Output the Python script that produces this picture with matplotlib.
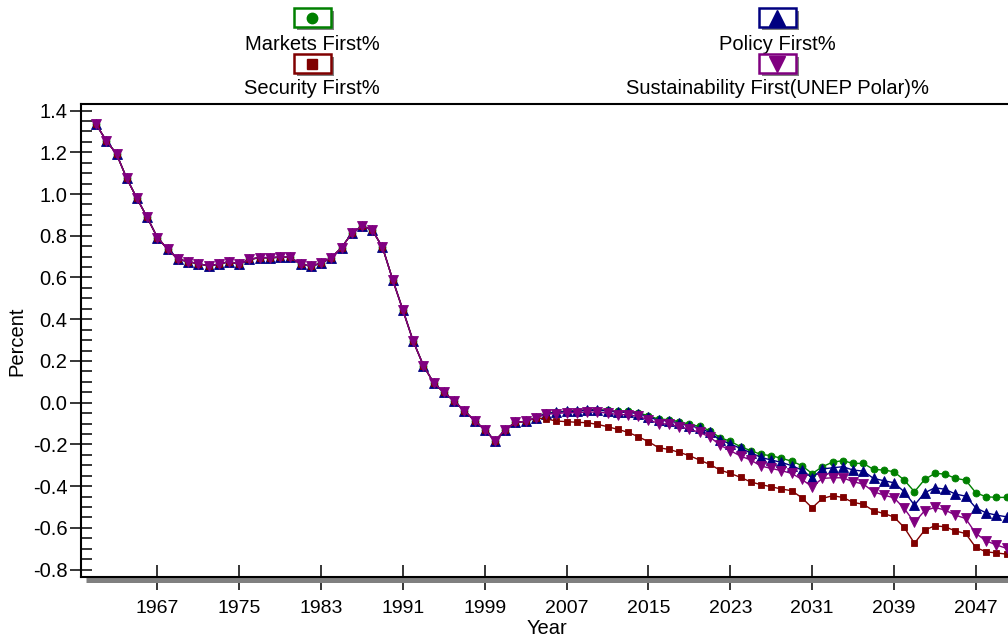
import matplotlib
matplotlib.use("Agg")
import matplotlib.pyplot as plt
from matplotlib.ticker import MultipleLocator, FixedLocator
from matplotlib.patches import Rectangle
from matplotlib.lines import Line2D

plt.rcParams['font.family'] = ['Liberation Sans', 'DejaVu Sans']

years = list(range(1961, 2051))

# shared history 1961-2004
hist = [1.334, 1.256, 1.192, 1.075, 0.979, 0.888, 0.791, 0.736, 0.688, 0.676,
        0.666, 0.656, 0.664, 0.676, 0.663, 0.687, 0.695, 0.695, 0.697, 0.697,
        0.663, 0.655, 0.668, 0.695, 0.743, 0.812, 0.847, 0.827, 0.745, 0.589,
        0.443, 0.295, 0.178, 0.095, 0.049, 0.008, -0.039, -0.086, -0.130, -0.183,
        -0.130, -0.094, -0.090, -0.072]

# scenario values 2005-2050
markets_future = [-0.050, -0.045, -0.040, -0.038, -0.034, -0.033, -0.036, -0.042, -0.042, -0.048,
                  -0.063, -0.079, -0.081, -0.091, -0.103, -0.114, -0.134, -0.168, -0.185,
                  -0.211, -0.230, -0.248, -0.254, -0.267, -0.280, -0.302, -0.340, -0.307,
                  -0.285, -0.278, -0.291, -0.291, -0.320, -0.323, -0.331, -0.371, -0.427,
                  -0.368, -0.339, -0.342, -0.363, -0.371, -0.432, -0.451, -0.454, -0.454]
policy_future = [-0.052, -0.047, -0.042, -0.041, -0.037, -0.036, -0.040, -0.046, -0.046, -0.053,
                 -0.068, -0.085, -0.087, -0.098, -0.110, -0.122, -0.143, -0.178, -0.198,
                 -0.219, -0.240, -0.262, -0.275, -0.286, -0.302, -0.323, -0.360, -0.318,
                 -0.312, -0.307, -0.323, -0.328, -0.363, -0.374, -0.384, -0.427, -0.491,
                 -0.432, -0.408, -0.415, -0.438, -0.448, -0.504, -0.528, -0.539, -0.547]
security_future = [-0.078, -0.088, -0.091, -0.094, -0.096, -0.104, -0.115, -0.128, -0.142, -0.163,
                   -0.187, -0.216, -0.224, -0.238, -0.254, -0.275, -0.296, -0.323, -0.339,
                   -0.358, -0.380, -0.393, -0.403, -0.414, -0.422, -0.456, -0.504, -0.459,
                   -0.446, -0.454, -0.478, -0.487, -0.518, -0.531, -0.548, -0.598, -0.674,
                   -0.611, -0.590, -0.595, -0.615, -0.627, -0.694, -0.715, -0.720, -0.726]
sustain_future = [-0.055, -0.052, -0.048, -0.048, -0.045, -0.045, -0.050, -0.057, -0.058, -0.066,
                  -0.082, -0.100, -0.103, -0.115, -0.128, -0.142, -0.165, -0.203, -0.230,
                  -0.256, -0.275, -0.304, -0.315, -0.326, -0.339, -0.368, -0.403, -0.363,
                  -0.360, -0.360, -0.379, -0.390, -0.427, -0.443, -0.456, -0.507, -0.574,
                  -0.518, -0.502, -0.515, -0.539, -0.555, -0.627, -0.662, -0.682, -0.698]

labels = ["Markets First%", "Policy First%", "Security First%",
          "Sustainability First(UNEP Polar)%"]
colors = ["#008000", "#000080", "#800000", "#800080"]
markers = ["o", "^", "s", "v"]
msizes = [5.0, 7.8, 4.8, 7.8]
series = [hist + markets_future, hist + policy_future,
          hist + security_future, hist + sustain_future]

xticks = [1967, 1975, 1983, 1991, 1999, 2007, 2015, 2023, 2031, 2039, 2047]
yticks = [-0.8, -0.6, -0.4, -0.2, 0.0, 0.2, 0.4, 0.6, 0.8, 1.0, 1.2, 1.4]

W, H = 1008, 639
fig = plt.figure(figsize=(W / 100, H / 100), dpi=100)
ax = fig.add_axes([80.7 / W, 61.7 / H, (1016 - 80.7) / W, (577.3 - 104.3) / H])

for vals, c, m, ms in zip(series, colors, markers, msizes):
    ax.plot(years, vals, color=c, lw=1.0, marker=m, ms=ms,
            markerfacecolor=c, markeredgecolor=c, markeredgewidth=0.6, zorder=3)

ax.set_xlim(1959.5, 1959.5 + (1016 - 80.7) / 10.23)
ax.set_ylim(-0.837, 1.430)
ax.xaxis.set_major_locator(FixedLocator(xticks))
ax.yaxis.set_major_locator(FixedLocator(yticks))
ax.yaxis.set_minor_locator(MultipleLocator(0.05))
ax.set_xticklabels([str(t) for t in xticks])
ax.set_yticklabels(["%.1f" % t for t in yticks])

ax.tick_params(axis='x', which='major', direction='inout', length=18, width=1.1,
               labelsize=14, pad=7)
ax.tick_params(axis='y', which='major', direction='inout', length=16, width=1.1,
               labelsize=14.5, pad=1.5)
ax.tick_params(axis='y', which='minor', direction='in', length=8, width=1.1)
ax.tick_params(axis='x', which='minor', bottom=False)
for s in ['left', 'bottom', 'top', 'right']:
    ax.spines[s].set_linewidth(1.5)

# shadow under the x axis
ax.plot([5.3 / 935.3, 1.05], [-2.9 / 473.0, -2.9 / 473.0], transform=ax.transAxes,
        clip_on=False, color='#808080', lw=3.6, solid_capstyle='butt', zorder=2.4)

fig.text(17 / W, 1 - 340.8 / H, "Percent", rotation=90, ha='center', va='center', fontsize=14.5)
fig.text(547 / W, 1 - 628 / H, "Year", ha='center', va='center', fontsize=14.5)


def fx(x):
    return x / W


def fy(y):
    return 1 - y / H


# legend: boxes with markers, labels under them
cols = [312, 777, 312, 777]
box_y = [17.5, 17.5, 63.5, 63.5]
lab_y = [44, 44, 89, 89]
leg_ms = [7.5, 11, 7.5, 11]
bw, bh = 37, 19
for lab, c, m, ms, cx, by, ly in zip(labels, colors, markers, leg_ms, cols, box_y, lab_y):
    fig.add_artist(Rectangle((fx(cx - bw / 2 + 3), fy(by + bh / 2 + 3)), bw / W, bh / H,
                             transform=fig.transFigure, facecolor='#808080',
                             edgecolor='none', zorder=5))
    fig.add_artist(Rectangle((fx(cx - bw / 2), fy(by + bh / 2)), bw / W, bh / H,
                             transform=fig.transFigure, facecolor='white',
                             edgecolor=c, lw=1.8, zorder=6))
    fig.add_artist(Line2D([fx(cx)], [fy(by)], transform=fig.transFigure, marker=m,
                          ms=ms, color=c, markeredgecolor=c, zorder=7))
    fig.text(fx(cx), fy(ly), lab, ha='center', va='center', fontsize=14.5)

fig.savefig("out.png", dpi=100)
